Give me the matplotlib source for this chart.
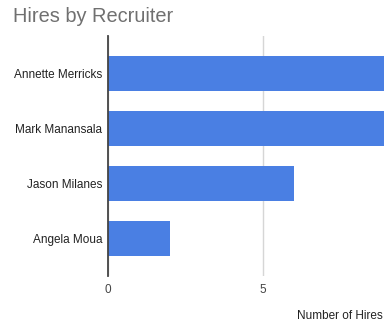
import matplotlib.pyplot as plt

recruiters = ['Annette Merricks', 'Mark Manansala', 'Jason Milanes', 'Angela Moua']
hires = [10, 9, 6, 2]
x_ticks = [0, 5]

plt.rcParams['font.family'] = ['Liberation Sans', 'DejaVu Sans']

fig = plt.figure(figsize=(3.84, 3.23), dpi=100)
# plot area runs past the right edge of the figure
ax = fig.add_axes([108.3 / 384, 47 / 323, 371 / 384, 240 / 323])

ypos = list(range(len(recruiters)))
ax.barh(ypos, hires, height=0.64, color='#4a7fe3', zorder=2)

ax.set_xlim(0, 12)
ax.set_ylim(3.68, -0.68)
ax.set_yticks(ypos)
ax.set_yticklabels(recruiters, fontsize=8.5, color='#222222')
ax.set_xticks(x_ticks)
ax.set_xticklabels([str(t) for t in x_ticks], fontsize=8.5, color='#444444')
ax.tick_params(axis='y', length=0, pad=4.5)
ax.tick_params(axis='x', length=0, pad=6)

ax.grid(axis='x', color='#d6d6d6', linewidth=1, zorder=0)
for side in ['top', 'right', 'bottom']:
    ax.spines[side].set_visible(False)
ax.spines['left'].set_color('#444444')
ax.spines['left'].set_linewidth(1.3)
ax.spines['left'].set_zorder(3)

fig.text(13 / 384, 1 - 22 / 323, 'Hires by Recruiter', fontsize=14.4,
         color='#707070', ha='left', va='baseline')
fig.text(297 / 384, 1 - 316 / 323, 'Number of Hires', fontsize=8.5,
         color='#222222', ha='left', va='center')

fig.savefig('out.png', dpi=100)
